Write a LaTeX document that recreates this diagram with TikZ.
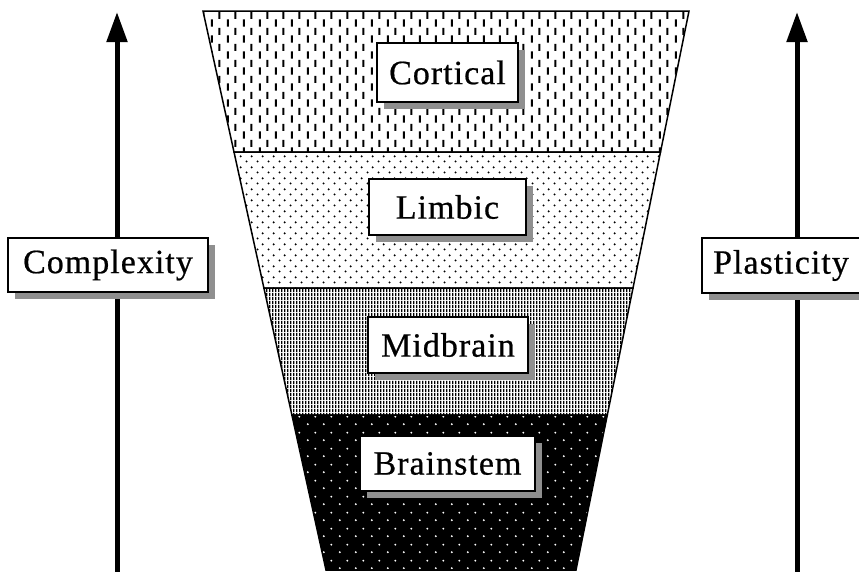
\documentclass[tikz,border=0pt]{standalone}
\usepackage{fontspec}
\setmainfont{Liberation Serif}
\usetikzlibrary{patterns,shadows,arrows.meta}

% fill textures for the four layers
\pgfdeclarepatternformonly{cortexdash}{\pgfqpoint{0pt}{0pt}}{\pgfqpoint{16pt}{16pt}}{\pgfqpoint{16pt}{16pt}}{%
  \pgfpathrectangle{\pgfqpoint{3pt}{0.5pt}}{\pgfqpoint{2.2pt}{7.5pt}}%
  \pgfpathrectangle{\pgfqpoint{11pt}{8.5pt}}{\pgfqpoint{2.2pt}{7.5pt}}%
  \pgfusepath{fill}}
\pgfdeclarepatternformonly{limbdots}{\pgfqpoint{0pt}{0pt}}{\pgfqpoint{10.6pt}{10.6pt}}{\pgfqpoint{10.6pt}{10.6pt}}{%
  \pgfpathcircle{\pgfqpoint{2.65pt}{2.65pt}}{1.15pt}%
  \pgfpathcircle{\pgfqpoint{7.95pt}{7.95pt}}{1.15pt}%
  \pgfusepath{fill}}
\pgfdeclarepatternformonly{midlines}{\pgfqpoint{0pt}{0pt}}{\pgfqpoint{3.3pt}{4pt}}{\pgfqpoint{3.3pt}{4pt}}{%
  \pgfpathrectangle{\pgfqpoint{0pt}{0pt}}{\pgfqpoint{1.7pt}{4pt}}%
  \pgfusepath{fill}}
\pgfdeclarepatternformonly{stemdots}{\pgfqpoint{0pt}{0pt}}{\pgfqpoint{16pt}{16pt}}{\pgfqpoint{16pt}{16pt}}{%
  \pgfpathcircle{\pgfqpoint{4pt}{4pt}}{1.1pt}%
  \pgfpathcircle{\pgfqpoint{12pt}{12pt}}{1.1pt}%
  \pgfusepath{fill}}

\definecolor{shadowgray}{RGB}{143,143,143}

\begin{document}
\begin{tikzpicture}[x=1pt,y=-1pt,
  band/.style={draw=black, line width=1.5pt},
  tag/.style={draw=black, line width=1.2pt, fill=white, inner sep=0pt,
    font=\fontsize{34}{38}\selectfont\addfontfeature{LetterSpace=3,FakeBold=0.6},
    drop shadow={shadow xshift=7pt, shadow yshift=-7pt, fill=shadowgray, opacity=1}},
  axis/.style={line width=5pt, -{Triangle[length=30pt,width=20pt]}}]

\useasboundingbox (0,0) rectangle (859,571);
\fill[white] (0,0) rectangle (859,571);

% funnel outline points
\coordinate (l0) at (203,11);   \coordinate (r0) at (689,11);
\coordinate (l1) at (234,152);  \coordinate (r1) at (660.5,152);
\coordinate (l2) at (263.9,288); \coordinate (r2) at (633,288);
\coordinate (l3) at (291.9,415); \coordinate (r3) at (607.3,415);
\coordinate (l4) at (326,570);  \coordinate (r4) at (576,570);

% layers
\path[pattern=cortexdash] (l0) -- (r0) -- (r1) -- (l1) -- cycle;
\path[pattern=limbdots] (l1) -- (r1) -- (r2) -- (l2) -- cycle;
\path[pattern=midlines] (l2) -- (r2) -- (r3) -- (l3) -- cycle;
\path[fill=black] (l3) -- (r3) -- (r4) -- (l4) -- cycle;
\path[pattern=stemdots, pattern color=white] (l3) -- (r3) -- (r4) -- (l4) -- cycle;
\draw[band] (l0) -- (r0) -- (r1) -- (l1) -- cycle;
\draw[band] (l1) -- (r1) -- (r2) -- (l2) -- cycle;
\draw[band] (l2) -- (r2) -- (r3) -- (l3) -- cycle;
\draw[band] (l3) -- (r3) -- (r4) -- (l4) -- cycle;

% side axes
\coordinate (cbot) at (117,575); \coordinate (ctop) at (117,12);
\coordinate (pbot) at (797,575); \coordinate (ptop) at (797,12);
\draw[axis] (cbot) -- (ctop);
\draw[axis] (pbot) -- (ptop);

% labels
\node[tag, minimum width=141pt, minimum height=59pt] (cort) at (447.5,72.5) {Cortical};
\node[tag, minimum width=157pt, minimum height=56pt] (limb) at (447.5,207) {Limbic};
\node[tag, minimum width=160pt, minimum height=56pt] (mid) at (448,345) {Midbrain};
\node[tag, minimum width=175pt, minimum height=55pt] (stem) at (447.5,463.5) {Brainstem};
\node[tag, minimum width=200pt, minimum height=54pt] (cplx) at (108,265) {Complexity};
\node[tag, minimum width=158pt, minimum height=55pt] (plas) at (781,265.5) {Plasticity};
\end{tikzpicture}
\end{document}
